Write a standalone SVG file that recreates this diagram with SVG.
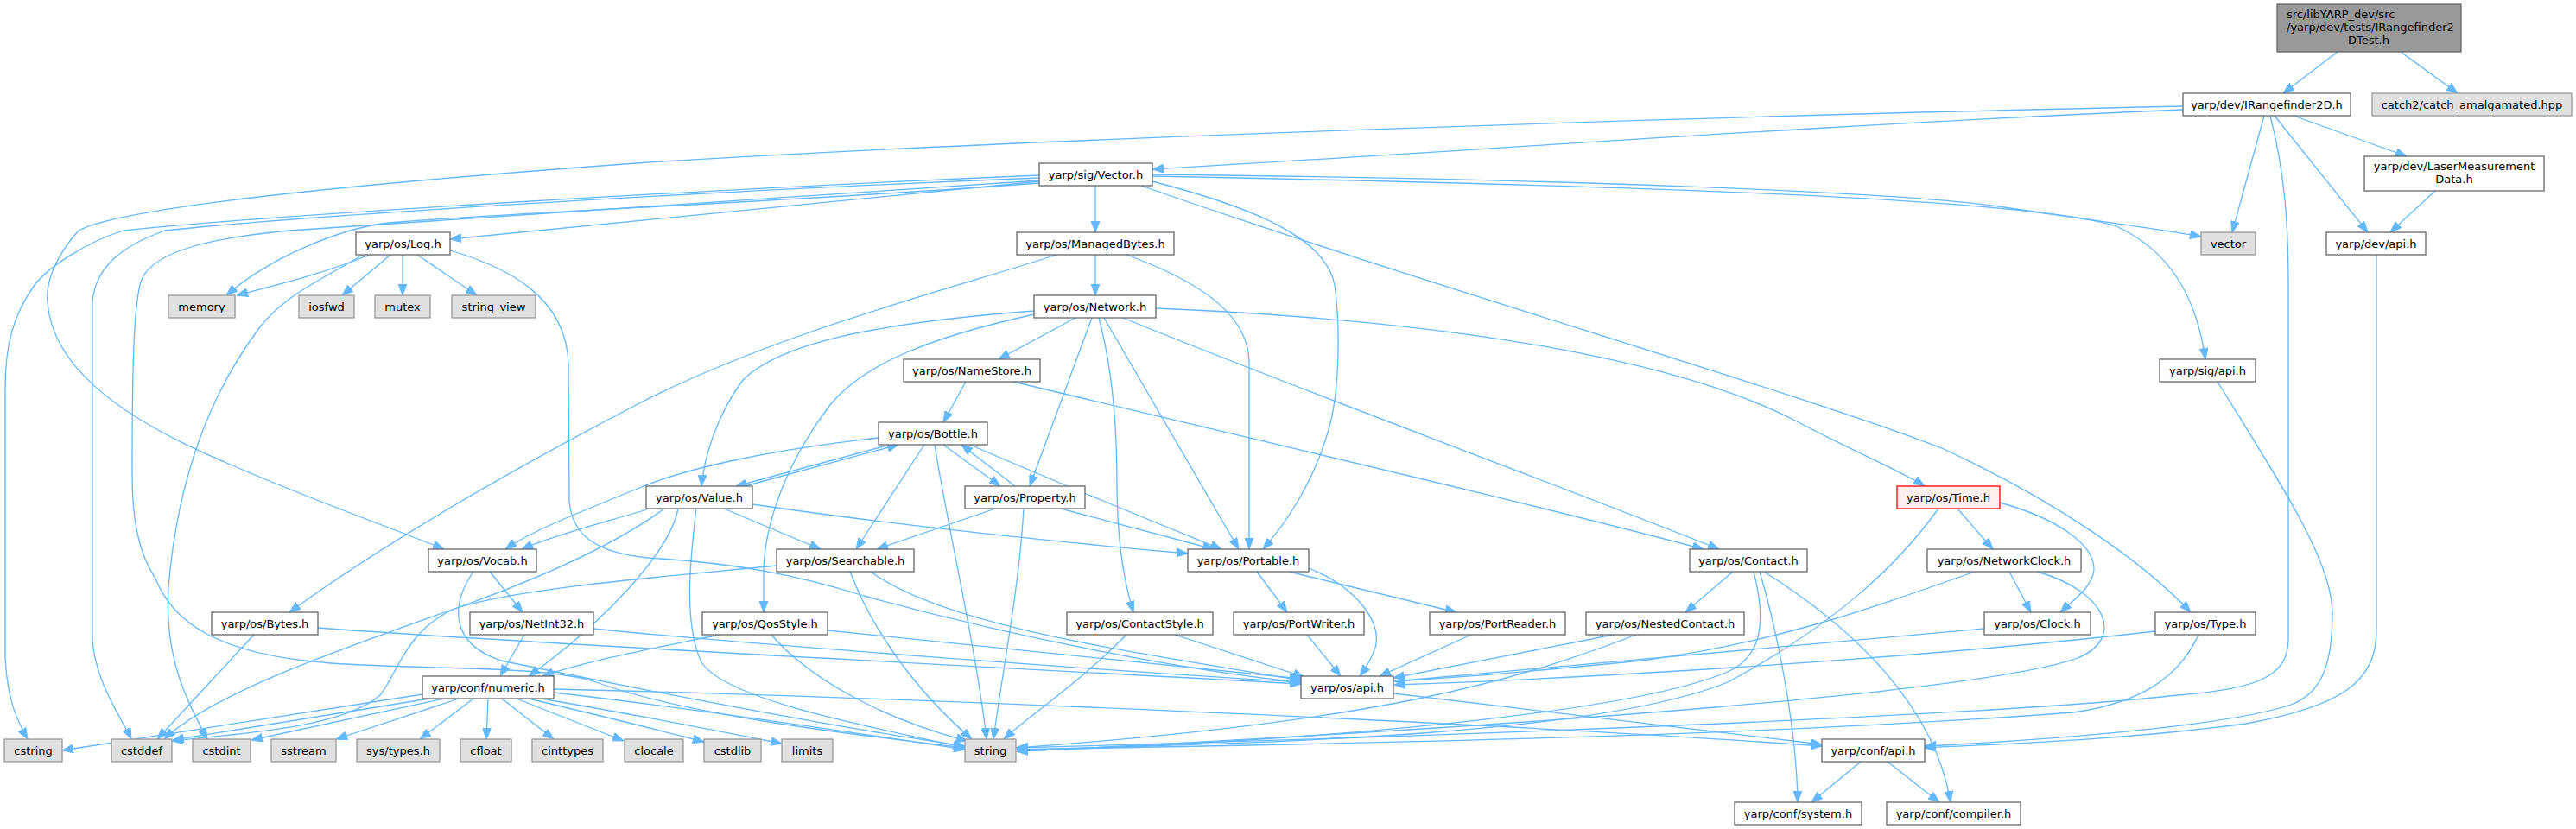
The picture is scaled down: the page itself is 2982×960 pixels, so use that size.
<svg xmlns="http://www.w3.org/2000/svg" width="2982" height="960" viewBox="0 0 2982 960">
<style>
.n{fill:#ffffff;stroke:#666666;stroke-width:1.3}
.x{fill:#e0e0e0;stroke:#999999;stroke-width:1.3}
.r{fill:#999999;stroke:#666666;stroke-width:1.3}
.t{fill:#fff0f0;stroke:#ff0000;stroke-width:1.3}
text{font-family:"DejaVu Sans","Liberation Sans",sans-serif;font-size:13px;fill:#000000;text-anchor:middle}
.e{fill:none;stroke:#63b8ff;stroke-width:1.3;marker-end:url(#ah)}
</style>
<defs>
<marker id="ah" viewBox="0 0 13 10" refX="13" refY="5" markerWidth="13" markerHeight="10" markerUnits="userSpaceOnUse" orient="auto">
<path d="M0,0 L13,5 L0,10 z" fill="#63b8ff" stroke="#63b8ff" stroke-width="1"/>
</marker>
</defs>
<rect width="2982" height="960" fill="#ffffff"/>
<g id="edges">
<path class="e" d="M2706,60 L2643,108"/>
<path class="e" d="M2779,60 L2845,108"/>
<path class="e" d="M2527,127 C2100,145 1700,175 1334,196"/>
<path class="e" d="M2621,134 L2584,269"/>
<path class="e" d="M2655,134 L2786,181"/>
<path class="e" d="M2633,134 L2741,269"/>
<path class="e" d="M2628,134 C2645,200 2649,260 2649,330 L2649,740 C2649,785 2610,798 2521,805 C2300,830 1600,855 1176,866"/>
<path class="e" d="M2527,123 C2000,134 1200,160 750,188 C420,212 140,240 91,267 C68,292 52,325 55,350 C60,420 130,480 260,535 C350,575 450,610 514,636"/>
<path class="e" d="M1203,203 C800,220 300,250 143,267 C100,280 55,310 40,330 C15,365 6,400 6,450 L6,760 C8,810 20,835 32,856"/>
<path class="e" d="M1203,206 C800,222 350,250 191,267 C140,285 110,310 107,350 L107,740 C110,790 140,830 152,856"/>
<path class="e" d="M1203,212 C900,235 600,245 450,258 C390,265 310,300 262,342"/>
<path class="e" d="M1203,209 C900,230 480,255 335,267 C250,275 170,290 162,330 C155,360 153,420 153,550 C153,600 160,640 180,670 C200,720 250,758 383,768 C500,776 630,770 690,790 C800,830 1000,852 1117,866"/>
<path class="e" d="M1334,202 C1800,207 2200,222 2320,240 C2420,255 2500,265 2548,274"/>
<path class="e" d="M1203,210 L521,277"/>
<path class="e" d="M1268,215 L1268,269"/>
<path class="e" d="M1334,210 C1450,240 1535,275 1545,330 C1552,380 1550,450 1540,490 C1522,560 1485,610 1462,636"/>
<path class="e" d="M1321,215 C1650,330 2100,460 2250,520 C2380,580 2480,650 2536,709"/>
<path class="e" d="M1334,204 C1900,215 2350,230 2450,262 C2510,290 2542,340 2553,416"/>
<path class="e" d="M2819,221 L2767,269"/>
<path class="e" d="M2751,295 L2751,730 C2751,790 2710,818 2600,838 C2450,858 2300,862 2228,866"/>
<path class="e" d="M428,295 C380,315 320,330 274,342"/>
<path class="e" d="M452,295 L396,342"/>
<path class="e" d="M466,295 L466,342"/>
<path class="e" d="M483,295 L552,342"/>
<path class="e" d="M420,295 C380,320 330,340 300,380 C240,460 205,560 195,680 C190,760 215,810 240,856"/>
<path class="e" d="M521,290 C590,310 655,345 658,420 L659,580 C662,620 690,640 750,646 C850,652 920,665 1000,690 C1200,745 1400,780 1506,790"/>
<path class="e" d="M1268,295 L1268,342"/>
<path class="e" d="M1223,295 C1100,335 900,385 740,467 C600,540 450,625 335,709"/>
<path class="e" d="M1304,295 C1400,330 1446,370 1446,420 L1446,636"/>
<path class="e" d="M1245,368 L1156,416"/>
<path class="e" d="M1197,360 C1000,375 900,400 860,440 C830,480 815,530 812,563"/>
<path class="e" d="M1197,364 C1080,390 1000,420 960,470 C900,550 885,620 884,660 L884,709"/>
<path class="e" d="M1264,368 L1192,563"/>
<path class="e" d="M1272,368 C1286,420 1293,480 1293,560 C1293,620 1300,670 1312,709"/>
<path class="e" d="M1278,368 L1434,636"/>
<path class="e" d="M1300,368 C1500,450 1800,560 1990,636"/>
<path class="e" d="M1338,357 C1700,372 1950,420 2080,488 C2150,525 2200,545 2228,563"/>
<path class="e" d="M2567,442 C2640,560 2700,650 2700,710 C2700,765 2690,800 2655,815 C2580,842 2350,858 2228,864"/>
<path class="e" d="M1118,442 L1092,489"/>
<path class="e" d="M1173,442 C1500,520 1800,590 1972,636"/>
<path class="e" d="M1030,515 L852,563"/>
<path class="e" d="M1092,515 L1158,563"/>
<path class="e" d="M1070,515 L991,636"/>
<path class="e" d="M1082,515 C1095,600 1130,750 1142,856"/>
<path class="e" d="M1123,515 C1250,570 1350,610 1414,636"/>
<path class="e" d="M1017,507 C900,520 800,540 740,565 C680,590 620,612 585,636"/>
<path class="e" d="M862,563 L1040,515"/>
<path class="e" d="M838,589 L950,636"/>
<path class="e" d="M871,584 C1050,610 1250,630 1375,641"/>
<path class="e" d="M752,589 C700,605 640,620 604,636"/>
<path class="e" d="M785,589 C775,640 700,720 612,783"/>
<path class="e" d="M769,589 C720,625 650,660 540,700 C400,750 250,800 190,856"/>
<path class="e" d="M806,589 C800,640 790,720 812,767 C840,810 1000,840 1117,866"/>
<path class="e" d="M1175,563 L1113,515"/>
<path class="e" d="M1152,589 L1015,636"/>
<path class="e" d="M1228,589 L1405,636"/>
<path class="e" d="M1185,589 C1180,680 1160,780 1150,856"/>
<path class="e" d="M2266,589 L2307,636"/>
<path class="e" d="M2315,582 C2380,600 2425,630 2424,660 C2422,680 2400,695 2385,709"/>
<path class="e" d="M2244,589 C2200,650 2130,720 2000,790 C1850,850 1500,860 1177,868"/>
<path class="e" d="M567,662 L605,709"/>
<path class="e" d="M548,662 C522,700 520,745 580,765 C700,790 950,840 1117,864"/>
<path class="e" d="M899,655 C800,665 600,680 526,705 C470,730 460,780 440,805 C400,840 300,848 199,858"/>
<path class="e" d="M1008,662 C1100,730 1350,760 1506,788"/>
<path class="e" d="M984,662 C1010,730 1060,800 1125,856"/>
<path class="e" d="M1455,662 L1490,709"/>
<path class="e" d="M1492,662 L1686,709"/>
<path class="e" d="M1515,658 C1570,680 1600,720 1592,750 C1587,765 1580,775 1574,783"/>
<path class="e" d="M2006,662 L1951,709"/>
<path class="e" d="M2030,662 C2045,720 2040,760 2000,778 C1900,820 1600,855 1177,870"/>
<path class="e" d="M2037,662 C2060,740 2080,850 2081,929"/>
<path class="e" d="M2042,662 C2150,730 2240,820 2258,929"/>
<path class="e" d="M2326,662 L2351,709"/>
<path class="e" d="M2286,662 C2150,710 2050,745 1900,765 C1750,780 1680,785 1614,789"/>
<path class="e" d="M2358,662 C2440,685 2460,740 2405,762 C2300,800 1800,840 1177,870"/>
<path class="e" d="M294,735 L182,856"/>
<path class="e" d="M368,727 C600,745 1200,775 1506,792"/>
<path class="e" d="M607,735 L579,783"/>
<path class="e" d="M687,728 C850,745 1300,778 1506,790"/>
<path class="e" d="M833,735 C760,750 680,765 628,783"/>
<path class="e" d="M958,730 L1506,786"/>
<path class="e" d="M893,735 C940,790 1030,835 1120,858"/>
<path class="e" d="M1360,735 L1510,784"/>
<path class="e" d="M1304,735 C1250,790 1190,830 1162,856"/>
<path class="e" d="M1513,735 L1552,783"/>
<path class="e" d="M1703,735 L1597,783"/>
<path class="e" d="M1868,735 L1613,785"/>
<path class="e" d="M1894,735 C1750,790 1600,835 1177,866"/>
<path class="e" d="M2297,728 C2000,755 1750,777 1614,789"/>
<path class="e" d="M2495,731 C2200,765 1800,787 1614,793"/>
<path class="e" d="M2545,735 C2520,790 2470,815 2400,825 C2000,855 1500,862 1177,868"/>
<path class="e" d="M489,804 L72,869"/>
<path class="e" d="M497,809 L200,857"/>
<path class="e" d="M514,809 L291,857"/>
<path class="e" d="M531,809 L389,856"/>
<path class="e" d="M548,809 L486,856"/>
<path class="e" d="M565,809 L563,856"/>
<path class="e" d="M581,809 L641,856"/>
<path class="e" d="M598,809 L722,858"/>
<path class="e" d="M612,809 C700,830 780,850 815,859"/>
<path class="e" d="M626,809 C750,830 850,850 905,861"/>
<path class="e" d="M641,802 C800,820 1000,850 1117,868"/>
<path class="e" d="M641,798 C1000,806 1700,835 2109,864"/>
<path class="e" d="M1613,803 L2109,862"/>
<path class="e" d="M2154,882 L2097,929"/>
<path class="e" d="M2185,882 L2245,929"/>
</g>
<g id="root"><rect class="r" x="2636" y="5" width="213" height="55"/><text x="2647" y="21" style="text-anchor:start">src/libYARP_dev/src</text><text x="2647" y="36" style="text-anchor:start">/yarp/dev/tests/IRangefinder2</text><text x="2742" y="51">DTest.h</text></g>
<g id="IRangefinder2D"><rect class="n" x="2527" y="108" width="194" height="26"/><text x="2624" y="125.5">yarp/dev/IRangefinder2D.h</text></g>
<g id="catch2"><rect class="x" x="2746" y="108" width="231" height="26"/><text x="2861.5" y="125.5">catch2/catch_amalgamated.hpp</text></g>
<g id="sigVector"><rect class="n" x="1203" y="189" width="131" height="26"/><text x="1268.5" y="206.5">yarp/sig/Vector.h</text></g>
<g id="LaserMeasurementData"><rect class="n" x="2737" y="181" width="208" height="40"/><text x="2841" y="197">yarp/dev/LaserMeasurement</text><text x="2841" y="212">Data.h</text></g>
<g id="Log"><rect class="n" x="412" y="269" width="109" height="26"/><text x="466.5" y="286.5">yarp/os/Log.h</text></g>
<g id="ManagedBytes"><rect class="n" x="1177" y="269" width="182" height="26"/><text x="1268" y="286.5">yarp/os/ManagedBytes.h</text></g>
<g id="vector"><rect class="x" x="2548" y="269" width="63" height="26"/><text x="2579.5" y="286.5">vector</text></g>
<g id="devapi"><rect class="n" x="2693" y="269" width="115" height="26"/><text x="2750.5" y="286.5">yarp/dev/api.h</text></g>
<g id="memory"><rect class="x" x="195" y="342" width="77" height="26"/><text x="233.5" y="359.5">memory</text></g>
<g id="iosfwd"><rect class="x" x="346" y="342" width="64" height="26"/><text x="378" y="359.5">iosfwd</text></g>
<g id="mutex"><rect class="x" x="434" y="342" width="64" height="26"/><text x="466" y="359.5">mutex</text></g>
<g id="string_view"><rect class="x" x="523" y="342" width="97" height="26"/><text x="571.5" y="359.5">string_view</text></g>
<g id="Network"><rect class="n" x="1197" y="342" width="141" height="26"/><text x="1267.5" y="359.5">yarp/os/Network.h</text></g>
<g id="NameStore"><rect class="n" x="1046" y="416" width="158" height="26"/><text x="1125" y="433.5">yarp/os/NameStore.h</text></g>
<g id="sigapi"><rect class="n" x="2500" y="416" width="111" height="26"/><text x="2555.5" y="433.5">yarp/sig/api.h</text></g>
<g id="Bottle"><rect class="n" x="1017" y="489" width="126" height="26"/><text x="1080" y="506.5">yarp/os/Bottle.h</text></g>
<g id="Value"><rect class="n" x="748" y="563" width="123" height="26"/><text x="809.5" y="580.5">yarp/os/Value.h</text></g>
<g id="Property"><rect class="n" x="1117" y="563" width="139" height="26"/><text x="1186.5" y="580.5">yarp/os/Property.h</text></g>
<g id="Time"><rect class="t" x="2196" y="563" width="119" height="26"/><text x="2255.5" y="580.5">yarp/os/Time.h</text></g>
<g id="Vocab"><rect class="n" x="496" y="636" width="125" height="26"/><text x="558.5" y="653.5">yarp/os/Vocab.h</text></g>
<g id="Searchable"><rect class="n" x="899" y="636" width="159" height="26"/><text x="978.5" y="653.5">yarp/os/Searchable.h</text></g>
<g id="Portable"><rect class="n" x="1375" y="636" width="140" height="26"/><text x="1445" y="653.5">yarp/os/Portable.h</text></g>
<g id="Contact"><rect class="n" x="1956" y="636" width="136" height="26"/><text x="2024" y="653.5">yarp/os/Contact.h</text></g>
<g id="NetworkClock"><rect class="n" x="2231" y="636" width="178" height="26"/><text x="2320" y="653.5">yarp/os/NetworkClock.h</text></g>
<g id="Bytes"><rect class="n" x="245" y="709" width="123" height="26"/><text x="306.5" y="726.5">yarp/os/Bytes.h</text></g>
<g id="NetInt32"><rect class="n" x="544" y="709" width="143" height="26"/><text x="615.5" y="726.5">yarp/os/NetInt32.h</text></g>
<g id="QosStyle"><rect class="n" x="813" y="709" width="145" height="26"/><text x="885.5" y="726.5">yarp/os/QosStyle.h</text></g>
<g id="ContactStyle"><rect class="n" x="1235" y="709" width="169" height="26"/><text x="1319.5" y="726.5">yarp/os/ContactStyle.h</text></g>
<g id="PortWriter"><rect class="n" x="1428" y="709" width="151" height="26"/><text x="1503.5" y="726.5">yarp/os/PortWriter.h</text></g>
<g id="PortReader"><rect class="n" x="1655" y="709" width="157" height="26"/><text x="1733.5" y="726.5">yarp/os/PortReader.h</text></g>
<g id="NestedContact"><rect class="n" x="1836" y="709" width="183" height="26"/><text x="1927.5" y="726.5">yarp/os/NestedContact.h</text></g>
<g id="Clock"><rect class="n" x="2297" y="709" width="123" height="26"/><text x="2358.5" y="726.5">yarp/os/Clock.h</text></g>
<g id="Type"><rect class="n" x="2495" y="709" width="116" height="26"/><text x="2553" y="726.5">yarp/os/Type.h</text></g>
<g id="numeric"><rect class="n" x="489" y="783" width="152" height="26"/><text x="565" y="800.5">yarp/conf/numeric.h</text></g>
<g id="osapi"><rect class="n" x="1506" y="783" width="107" height="26"/><text x="1559.5" y="800.5">yarp/os/api.h</text></g>
<g id="cstring"><rect class="x" x="5" y="856" width="67" height="26"/><text x="38.5" y="873.5">cstring</text></g>
<g id="cstddef"><rect class="x" x="129" y="856" width="70" height="26"/><text x="164" y="873.5">cstddef</text></g>
<g id="cstdint"><rect class="x" x="223" y="856" width="67" height="26"/><text x="256.5" y="873.5">cstdint</text></g>
<g id="sstream"><rect class="x" x="314" y="856" width="75" height="26"/><text x="351.5" y="873.5">sstream</text></g>
<g id="systypes"><rect class="x" x="413" y="856" width="96" height="26"/><text x="461" y="873.5">sys/types.h</text></g>
<g id="cfloat"><rect class="x" x="533" y="856" width="59" height="26"/><text x="562.5" y="873.5">cfloat</text></g>
<g id="cinttypes"><rect class="x" x="616" y="856" width="82" height="26"/><text x="657" y="873.5">cinttypes</text></g>
<g id="clocale"><rect class="x" x="723" y="856" width="68" height="26"/><text x="757" y="873.5">clocale</text></g>
<g id="cstdlib"><rect class="x" x="815" y="856" width="66" height="26"/><text x="848" y="873.5">cstdlib</text></g>
<g id="limits"><rect class="x" x="905" y="856" width="59" height="26"/><text x="934.5" y="873.5">limits</text></g>
<g id="string"><rect class="x" x="1117" y="856" width="59" height="26"/><text x="1146.5" y="873.5">string</text></g>
<g id="confapi"><rect class="n" x="2109" y="856" width="119" height="26"/><text x="2168.5" y="873.5">yarp/conf/api.h</text></g>
<g id="system"><rect class="n" x="2008" y="929" width="147" height="26"/><text x="2081.5" y="946.5">yarp/conf/system.h</text></g>
<g id="compiler"><rect class="n" x="2184" y="929" width="155" height="26"/><text x="2261.5" y="946.5">yarp/conf/compiler.h</text></g>
</svg>
